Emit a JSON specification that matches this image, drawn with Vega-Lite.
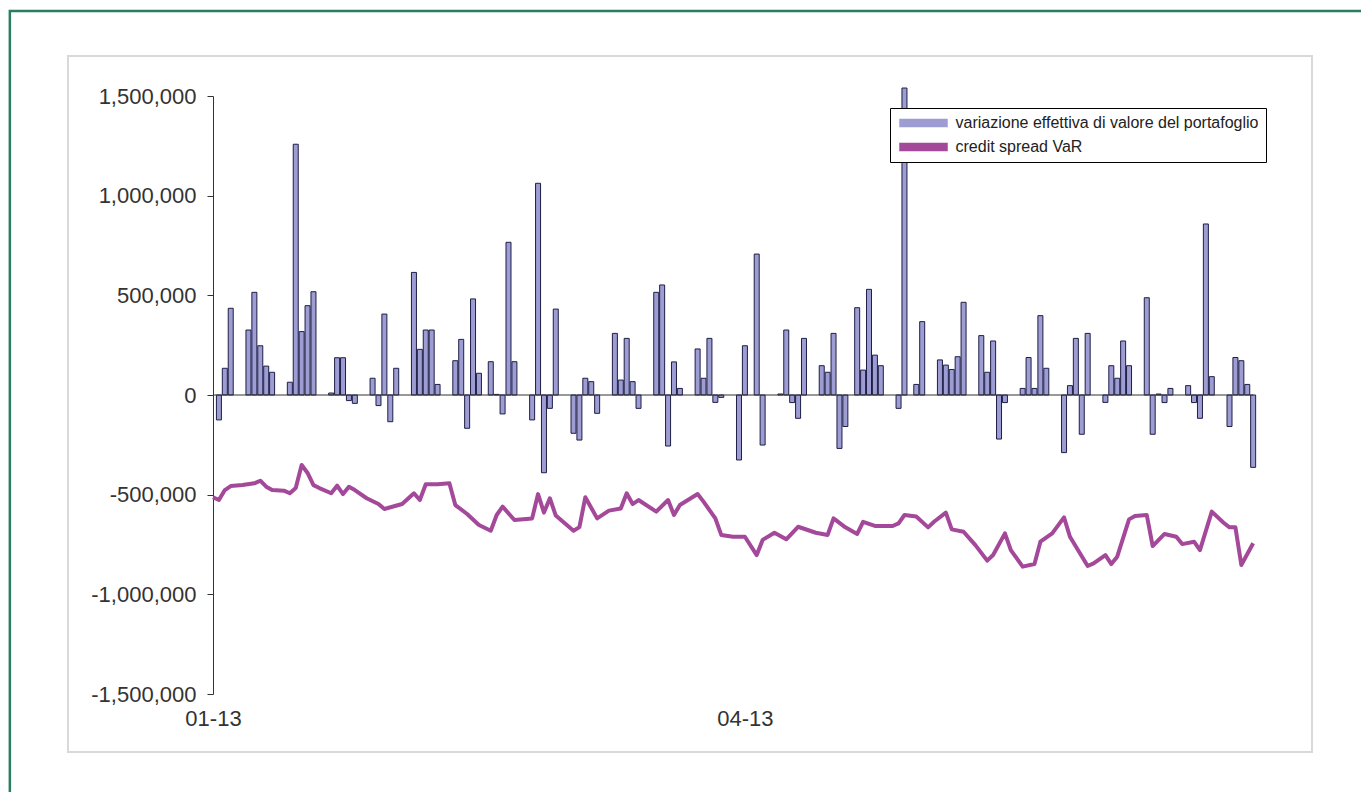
{
  "$schema": "https://vega.github.io/schema/vega-lite/v6.json",
  "width": 1244,
  "height": 696,
  "autosize": {"type": "none"},
  "padding": {"left": 68, "top": 56, "right": 49, "bottom": 40},
  "background": "white",
  "config": {
    "view": {"stroke": "#d9d9d9", "strokeWidth": 2},
    "font": "Liberation Sans",
    "legend": {
      "title": null, "orient": "none", "legendX": 822, "legendY": 52, "strokeColor": "#000000",
      "fillColor": "white", "padding": 7, "labelFontSize": 16, "labelColor": "#222222",
      "labelFont": "Liberation Sans", "labelLimit": 0, "symbolSize": 100, "symbolOffset": 18.5,
      "rowPadding": 8, "labelOffset": 24, "symbolType": "M-4.7,-0.7L4.7,-0.7L4.7,0.7L-4.7,0.7Z"
    }
  },
  "datasets": {
    "bars": [
      {"date": "2013-01-02", "value": -125000},
      {"date": "2013-01-03", "value": 134000},
      {"date": "2013-01-04", "value": 435000},
      {"date": "2013-01-07", "value": 326000},
      {"date": "2013-01-08", "value": 515000},
      {"date": "2013-01-09", "value": 247000},
      {"date": "2013-01-10", "value": 145000},
      {"date": "2013-01-11", "value": 114000},
      {"date": "2013-01-14", "value": 64000},
      {"date": "2013-01-15", "value": 1258000},
      {"date": "2013-01-16", "value": 318000},
      {"date": "2013-01-17", "value": 448000},
      {"date": "2013-01-18", "value": 518000},
      {"date": "2013-01-21", "value": 10000},
      {"date": "2013-01-22", "value": 187000},
      {"date": "2013-01-23", "value": 187000},
      {"date": "2013-01-24", "value": -28000},
      {"date": "2013-01-25", "value": -42000},
      {"date": "2013-01-28", "value": 84000},
      {"date": "2013-01-29", "value": -53000},
      {"date": "2013-01-30", "value": 406000},
      {"date": "2013-01-31", "value": -134000},
      {"date": "2013-02-01", "value": 134000},
      {"date": "2013-02-04", "value": 615000},
      {"date": "2013-02-05", "value": 229000},
      {"date": "2013-02-06", "value": 326000},
      {"date": "2013-02-07", "value": 326000},
      {"date": "2013-02-08", "value": 53000},
      {"date": "2013-02-11", "value": 172000},
      {"date": "2013-02-12", "value": 279000},
      {"date": "2013-02-13", "value": -167000},
      {"date": "2013-02-14", "value": 482000},
      {"date": "2013-02-15", "value": 109000},
      {"date": "2013-02-17", "value": 167000},
      {"date": "2013-02-18", "value": 3000},
      {"date": "2013-02-19", "value": -95000},
      {"date": "2013-02-20", "value": 766000},
      {"date": "2013-02-21", "value": 167000},
      {"date": "2013-02-24", "value": -125000},
      {"date": "2013-02-25", "value": 1062000},
      {"date": "2013-02-26", "value": -390000},
      {"date": "2013-02-27", "value": -67000},
      {"date": "2013-02-28", "value": 431000},
      {"date": "2013-03-03", "value": -192000},
      {"date": "2013-03-04", "value": -226000},
      {"date": "2013-03-05", "value": 84000},
      {"date": "2013-03-06", "value": 67000},
      {"date": "2013-03-07", "value": -92000},
      {"date": "2013-03-10", "value": 309000},
      {"date": "2013-03-11", "value": 75000},
      {"date": "2013-03-12", "value": 284000},
      {"date": "2013-03-13", "value": 67000},
      {"date": "2013-03-14", "value": -67000},
      {"date": "2013-03-17", "value": 515000},
      {"date": "2013-03-18", "value": 552000},
      {"date": "2013-03-19", "value": -256000},
      {"date": "2013-03-20", "value": 166000},
      {"date": "2013-03-21", "value": 33000},
      {"date": "2013-03-24", "value": 231000},
      {"date": "2013-03-25", "value": 84000},
      {"date": "2013-03-26", "value": 284000},
      {"date": "2013-03-27", "value": -37000},
      {"date": "2013-03-28", "value": -12000},
      {"date": "2013-03-31", "value": -326000},
      {"date": "2013-04-01", "value": 247000},
      {"date": "2013-04-03", "value": 707000},
      {"date": "2013-04-04", "value": -251000},
      {"date": "2013-04-07", "value": 5000},
      {"date": "2013-04-08", "value": 326000},
      {"date": "2013-04-09", "value": -38000},
      {"date": "2013-04-10", "value": -117000},
      {"date": "2013-04-11", "value": 284000},
      {"date": "2013-04-14", "value": 147000},
      {"date": "2013-04-15", "value": 114000},
      {"date": "2013-04-16", "value": 309000},
      {"date": "2013-04-17", "value": -268000},
      {"date": "2013-04-18", "value": -158000},
      {"date": "2013-04-20", "value": 438000},
      {"date": "2013-04-21", "value": 125000},
      {"date": "2013-04-22", "value": 530000},
      {"date": "2013-04-23", "value": 200000},
      {"date": "2013-04-24", "value": 147000},
      {"date": "2013-04-27", "value": -67000},
      {"date": "2013-04-28", "value": 1540000},
      {"date": "2013-04-30", "value": 53000},
      {"date": "2013-05-01", "value": 368000},
      {"date": "2013-05-04", "value": 176000},
      {"date": "2013-05-05", "value": 150000},
      {"date": "2013-05-06", "value": 128000},
      {"date": "2013-05-07", "value": 192000},
      {"date": "2013-05-08", "value": 465000},
      {"date": "2013-05-11", "value": 298000},
      {"date": "2013-05-12", "value": 114000},
      {"date": "2013-05-13", "value": 271000},
      {"date": "2013-05-14", "value": -221000},
      {"date": "2013-05-15", "value": -38000},
      {"date": "2013-05-18", "value": 33000},
      {"date": "2013-05-19", "value": 188000},
      {"date": "2013-05-20", "value": 33000},
      {"date": "2013-05-21", "value": 398000},
      {"date": "2013-05-22", "value": 134000},
      {"date": "2013-05-25", "value": -289000},
      {"date": "2013-05-26", "value": 47000},
      {"date": "2013-05-27", "value": 284000},
      {"date": "2013-05-28", "value": -197000},
      {"date": "2013-05-29", "value": 309000},
      {"date": "2013-06-01", "value": -37000},
      {"date": "2013-06-02", "value": 147000},
      {"date": "2013-06-03", "value": 84000},
      {"date": "2013-06-04", "value": 271000},
      {"date": "2013-06-05", "value": 147000},
      {"date": "2013-06-08", "value": 488000},
      {"date": "2013-06-09", "value": -197000},
      {"date": "2013-06-10", "value": 5000},
      {"date": "2013-06-11", "value": -38000},
      {"date": "2013-06-12", "value": 33000},
      {"date": "2013-06-15", "value": 47000},
      {"date": "2013-06-16", "value": -38000},
      {"date": "2013-06-17", "value": -117000},
      {"date": "2013-06-18", "value": 858000},
      {"date": "2013-06-19", "value": 92000},
      {"date": "2013-06-22", "value": -158000},
      {"date": "2013-06-23", "value": 188000},
      {"date": "2013-06-24", "value": 172000},
      {"date": "2013-06-25", "value": 53000},
      {"date": "2013-06-26", "value": -363000}
    ],
    "var": [
      {"date": "2013-01-01", "var": -513000},
      {"date": "2013-01-02", "var": -527000},
      {"date": "2013-01-03", "var": -477000},
      {"date": "2013-01-04", "var": -457000},
      {"date": "2013-01-06", "var": -452000},
      {"date": "2013-01-08", "var": -443000},
      {"date": "2013-01-09", "var": -430000},
      {"date": "2013-01-10", "var": -460000},
      {"date": "2013-01-11", "var": -477000},
      {"date": "2013-01-13", "var": -480000},
      {"date": "2013-01-14", "var": -493000},
      {"date": "2013-01-15", "var": -467000},
      {"date": "2013-01-16", "var": -351000},
      {"date": "2013-01-17", "var": -391000},
      {"date": "2013-01-18", "var": -452000},
      {"date": "2013-01-19", "var": -467000},
      {"date": "2013-01-21", "var": -493000},
      {"date": "2013-01-22", "var": -455000},
      {"date": "2013-01-23", "var": -497000},
      {"date": "2013-01-24", "var": -460000},
      {"date": "2013-01-25", "var": -477000},
      {"date": "2013-01-27", "var": -518000},
      {"date": "2013-01-29", "var": -547000},
      {"date": "2013-01-30", "var": -572000},
      {"date": "2013-02-02", "var": -547000},
      {"date": "2013-02-04", "var": -493000},
      {"date": "2013-02-05", "var": -527000},
      {"date": "2013-02-06", "var": -448000},
      {"date": "2013-02-08", "var": -448000},
      {"date": "2013-02-10", "var": -443000},
      {"date": "2013-02-11", "var": -552000},
      {"date": "2013-02-13", "var": -597000},
      {"date": "2013-02-15", "var": -652000},
      {"date": "2013-02-17", "var": -681000},
      {"date": "2013-02-18", "var": -602000},
      {"date": "2013-02-19", "var": -560000},
      {"date": "2013-02-21", "var": -627000},
      {"date": "2013-02-24", "var": -619000},
      {"date": "2013-02-25", "var": -497000},
      {"date": "2013-02-26", "var": -590000},
      {"date": "2013-02-27", "var": -518000},
      {"date": "2013-02-28", "var": -605000},
      {"date": "2013-03-03", "var": -681000},
      {"date": "2013-03-04", "var": -663000},
      {"date": "2013-03-05", "var": -513000},
      {"date": "2013-03-07", "var": -619000},
      {"date": "2013-03-09", "var": -580000},
      {"date": "2013-03-11", "var": -569000},
      {"date": "2013-03-12", "var": -493000},
      {"date": "2013-03-13", "var": -547000},
      {"date": "2013-03-14", "var": -527000},
      {"date": "2013-03-17", "var": -585000},
      {"date": "2013-03-19", "var": -527000},
      {"date": "2013-03-20", "var": -602000},
      {"date": "2013-03-21", "var": -552000},
      {"date": "2013-03-24", "var": -497000},
      {"date": "2013-03-25", "var": -535000},
      {"date": "2013-03-27", "var": -619000},
      {"date": "2013-03-28", "var": -702000},
      {"date": "2013-03-30", "var": -711000},
      {"date": "2013-04-01", "var": -711000},
      {"date": "2013-04-03", "var": -803000},
      {"date": "2013-04-04", "var": -727000},
      {"date": "2013-04-06", "var": -691000},
      {"date": "2013-04-08", "var": -724000},
      {"date": "2013-04-10", "var": -661000},
      {"date": "2013-04-13", "var": -691000},
      {"date": "2013-04-15", "var": -702000},
      {"date": "2013-04-16", "var": -619000},
      {"date": "2013-04-18", "var": -664000},
      {"date": "2013-04-20", "var": -697000},
      {"date": "2013-04-21", "var": -636000},
      {"date": "2013-04-23", "var": -657000},
      {"date": "2013-04-26", "var": -657000},
      {"date": "2013-04-27", "var": -644000},
      {"date": "2013-04-28", "var": -602000},
      {"date": "2013-04-30", "var": -610000},
      {"date": "2013-05-02", "var": -664000},
      {"date": "2013-05-03", "var": -636000},
      {"date": "2013-05-05", "var": -590000},
      {"date": "2013-05-06", "var": -674000},
      {"date": "2013-05-08", "var": -686000},
      {"date": "2013-05-10", "var": -753000},
      {"date": "2013-05-12", "var": -831000},
      {"date": "2013-05-13", "var": -803000},
      {"date": "2013-05-15", "var": -694000},
      {"date": "2013-05-16", "var": -778000},
      {"date": "2013-05-18", "var": -861000},
      {"date": "2013-05-20", "var": -848000},
      {"date": "2013-05-21", "var": -736000},
      {"date": "2013-05-23", "var": -694000},
      {"date": "2013-05-25", "var": -614000},
      {"date": "2013-05-26", "var": -711000},
      {"date": "2013-05-29", "var": -858000},
      {"date": "2013-05-30", "var": -845000},
      {"date": "2013-06-01", "var": -803000},
      {"date": "2013-06-02", "var": -848000},
      {"date": "2013-06-03", "var": -811000},
      {"date": "2013-06-05", "var": -624000},
      {"date": "2013-06-06", "var": -607000},
      {"date": "2013-06-08", "var": -602000},
      {"date": "2013-06-09", "var": -758000},
      {"date": "2013-06-11", "var": -697000},
      {"date": "2013-06-13", "var": -711000},
      {"date": "2013-06-14", "var": -748000},
      {"date": "2013-06-16", "var": -736000},
      {"date": "2013-06-17", "var": -778000},
      {"date": "2013-06-19", "var": -585000},
      {"date": "2013-06-21", "var": -641000},
      {"date": "2013-06-22", "var": -664000},
      {"date": "2013-06-23", "var": -664000},
      {"date": "2013-06-24", "var": -853000},
      {"date": "2013-06-26", "var": -744000}
    ]
  },
  "layer": [
    {
      "data": {"values": [{}]},
      "mark": {"type": "rect", "fill": null, "fillOpacity": 0, "stroke": "#2b7d62", "strokeWidth": 2.5},
      "encoding": {
        "x": {"datum": {"year": 2012, "month": 11, "date": 27, "hours": 15, "utc": true}, "type": "temporal",
              "scale": {"type": "utc", "domain": [{"year": 2013, "month": 1, "date": 1, "utc": true}, {"year": 2013, "month": 7, "date": 1, "utc": true}], "range": [145, 1214.7], "padding": 0},
              "axis": {"orient": "bottom", "offset": -58, "domain": false, "ticks": false, "grid": false, "title": null, "labelFlush": false,
                       "values": [{"year": 2013, "month": 1, "date": 1, "utc": true}, {"year": 2013, "month": 4, "date": 1, "utc": true}],
                       "labelExpr": "utcFormat(datum.value, '%m-%y')", "labelFontSize": 22, "labelColor": "#333333", "labelPadding": 14, "labelFont": "Liberation Sans"}},
        "x2": {"datum": {"year": 2013, "month": 7, "date": 14, "hours": 22, "utc": true}},
        "y": {"datum": 1926000, "type": "quantitative",
              "scale": {"domain": [-1500000, 1500000], "range": [638, 40], "nice": false, "zero": false, "padding": 0},
              "axis": {"orient": "left", "offset": -145, "grid": false, "title": null,
                       "values": [-1500000, -1000000, -500000, 0, 500000, 1000000, 1500000],
                       "labelExpr": "replace(format(datum.value, ',d'), '\u2212', '-')",
                       "domainColor": "#333333", "tickColor": "#333333", "tickSize": 6, "labelFontSize": 22,
                       "labelColor": "#333333", "labelPadding": 11, "labelFont": "Liberation Sans"}},
        "y2": {"datum": -2500000}
      }
    },
    {
      "data": {"name": "bars"},
      "mark": {"type": "bar", "size": 5, "stroke": "#1e1e46", "strokeWidth": 1},
      "encoding": {
        "x": {"field": "date", "type": "temporal", "title": null},
        "y": {"field": "value", "type": "quantitative", "title": null},
        "color": {"datum": "variazione effettiva di valore del portafoglio", "type": "nominal",
                  "scale": {"domain": ["variazione effettiva di valore del portafoglio", "credit spread VaR"], "range": ["#9d9dd3", "#a4489a"]},
                  "legend": {"symbolType": "M-4.7,-0.7L4.7,-0.7L4.7,0.7L-4.7,0.7Z"}}
      }
    },
    {
      "data": {"values": [{}]},
      "mark": {"type": "rule", "color": "#333333", "strokeWidth": 1},
      "encoding": {
        "x": {"datum": {"year": 2013, "month": 1, "date": 1, "utc": true}, "type": "temporal"},
        "x2": {"datum": {"year": 2013, "month": 6, "date": 26, "utc": true}},
        "y": {"datum": 0, "type": "quantitative"}
      }
    },
    {
      "data": {"name": "var"},
      "mark": {"type": "line", "strokeWidth": 4, "strokeJoin": "round"},
      "encoding": {
        "x": {"field": "date", "type": "temporal", "title": null},
        "y": {"field": "var", "type": "quantitative", "title": null},
        "color": {"datum": "credit spread VaR", "type": "nominal",
                  "legend": {"symbolType": "M-4.7,-0.7L4.7,-0.7L4.7,0.7L-4.7,0.7Z"}}
      }
    }
  ]
}
